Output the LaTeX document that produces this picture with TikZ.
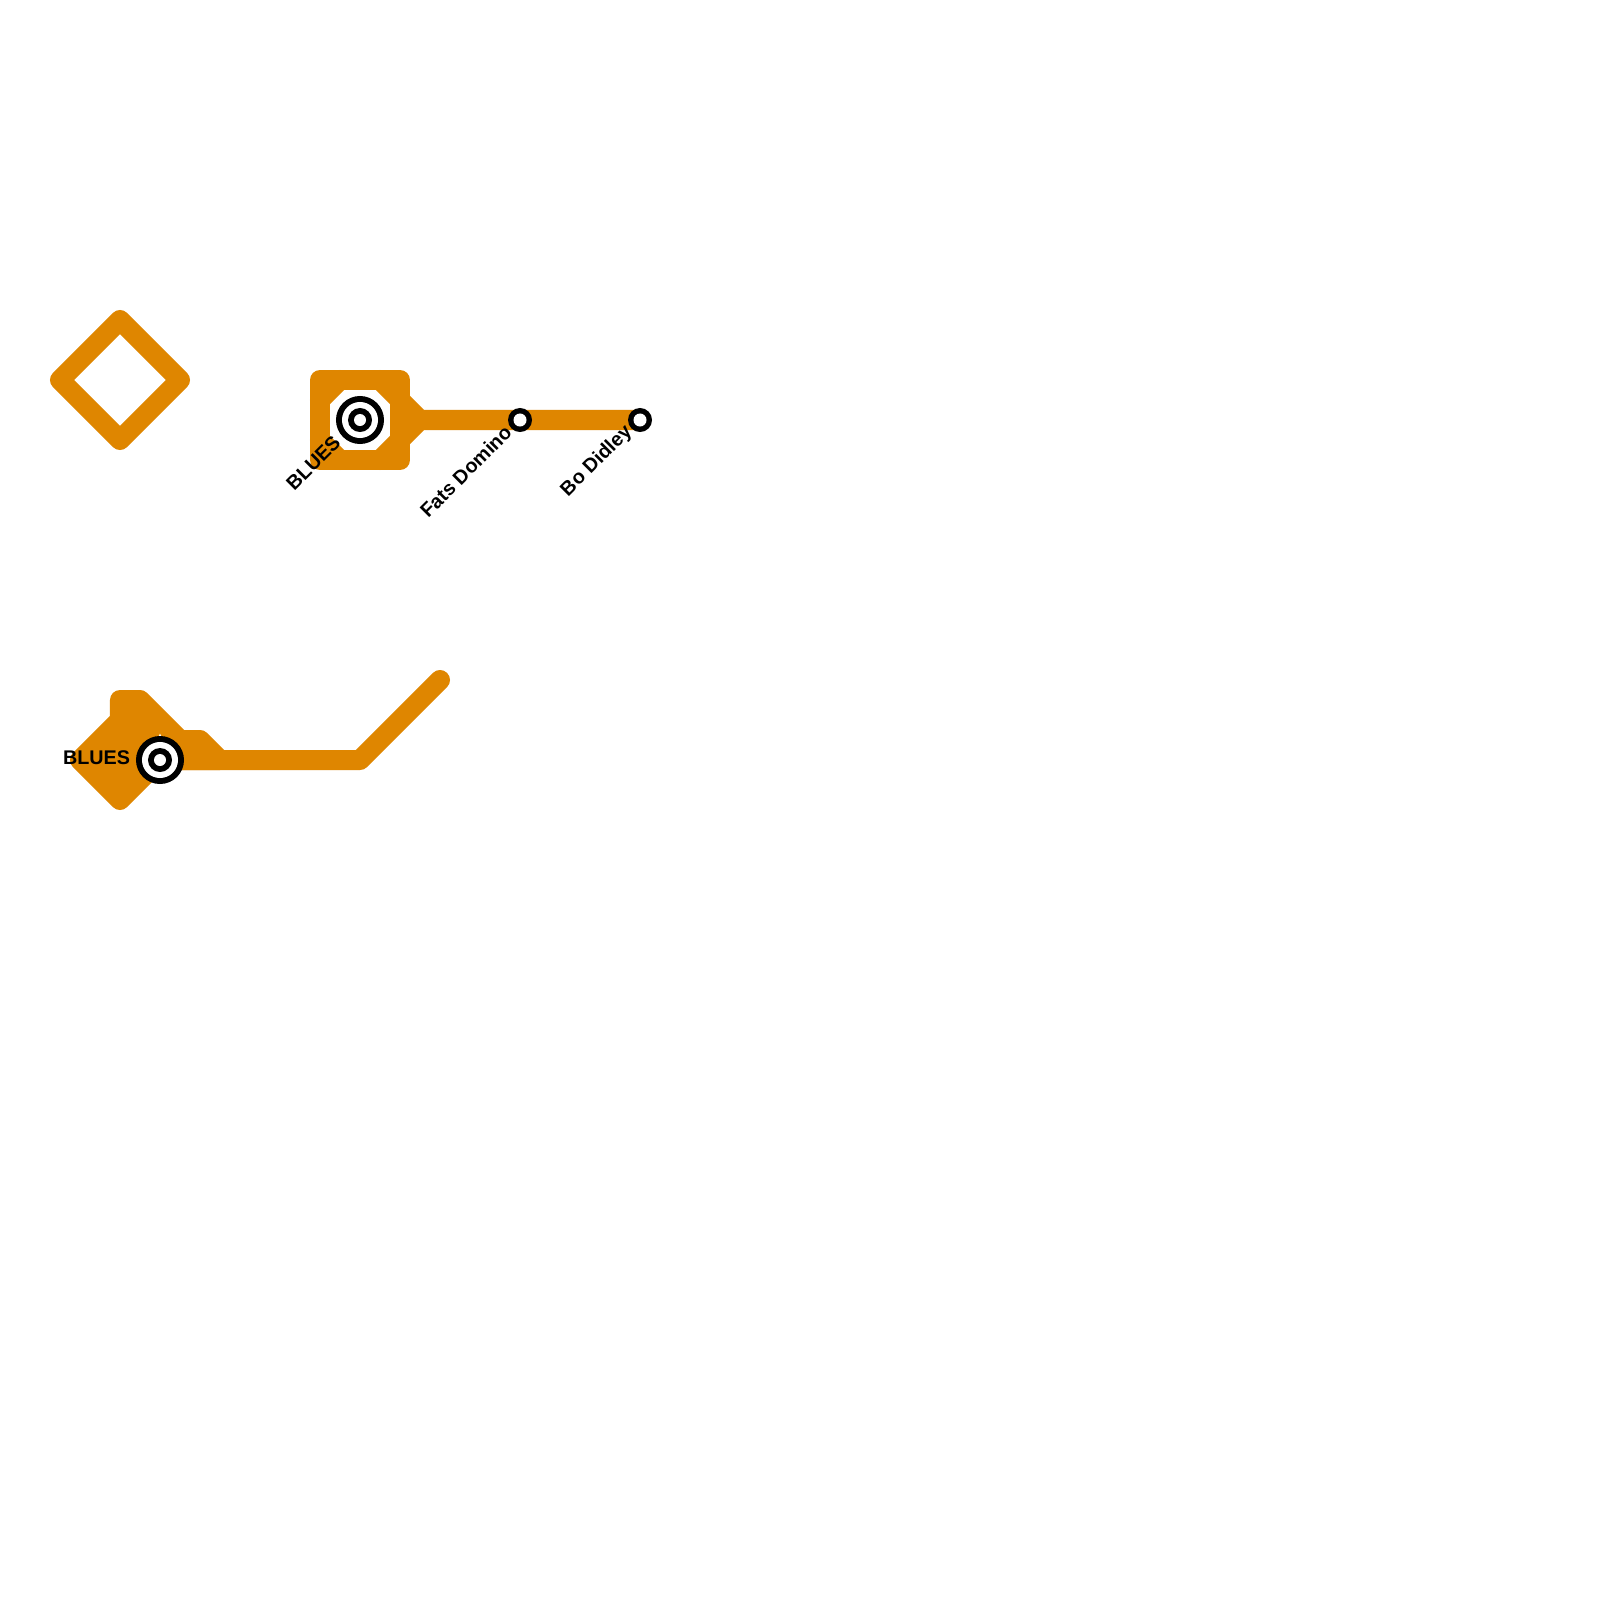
\documentclass[tikz,border=0pt]{standalone}
\usepackage{fontspec}
\setmainfont{Liberation Sans}
\definecolor{line}{HTML}{DF8600}
\begin{document}
\begin{tikzpicture}[x=0.01cm,y=-0.01cm,
  route/.style={draw=line,line width=0.2cm,line join=round,line cap=round},
  solid route/.style={route,fill=line},
  ring/.style={circle,draw=none,fill=#1,inner sep=0pt,outer sep=0pt},
  lbl/.style={inner sep=0pt,outer sep=0pt,font=\fontsize{5.62pt}{6pt}\selectfont\bfseries,text=black}]
\useasboundingbox[fill=white] (0,0) rectangle (1600,1600);
% free-standing diamond
\coordinate (d1) at (120,320);\coordinate (d2) at (180,380);\coordinate (d3) at (120,440);\coordinate (d4) at (60,380);
\draw[route] (d1) -- (d2) -- (d3) -- (d4) -- cycle;
% upper group
\coordinate (a1) at (320,380);\coordinate (a2) at (400,380);\coordinate (a3) at (400,460);\coordinate (a4) at (320,460);
\coordinate (b1) at (340,380);\coordinate (b2) at (320,400);\coordinate (b3) at (320,440);\coordinate (b4) at (340,460);
\coordinate (c1) at (380,380);\coordinate (c2) at (420,420);\coordinate (c3) at (380,460);
\coordinate (e) at (640,420);\coordinate (f) at (520,420);
\draw[route] (a1) -- (a2) -- (a3) -- (a4) -- cycle;
\draw[route] (b1) -- (b2) (b3) -- (b4) (c1) -- (c2) -- (c3) (c2) -- (e);
% lower group
\coordinate (g1) at (120,700);\coordinate (g2) at (140,700);\coordinate (g3) at (180,740);\coordinate (g4) at (200,740);\coordinate (g5) at (220,760);
\coordinate (g6) at (160,760);\coordinate (g7) at (120,800);\coordinate (g8) at (80,760);\coordinate (g9) at (120,720);
\coordinate (h1) at (360,760);\coordinate (h2) at (440,680);
\draw[solid route] (g1) -- (g2) -- (g3) -- (g4) -- (g5) -- (g6) -- (g7) -- (g8) -- (g9) -- cycle;
\draw[route] (g6) -- (h1) -- (h2);
\fill[white] (160,733.5) -- (161.5,736.5) -- (158.5,736.5) -- cycle;
% stations
\foreach \n/\x/\y in {s1/360/420,s2/160/760}{
  \node[ring=black,minimum size=0.48cm] (\n) at (\x,\y) {};
  \node[ring=white,minimum size=0.36cm] (\n w) at (\x,\y) {};
  \node[ring=black,minimum size=0.24cm] (\n b) at (\x,\y) {};
  \node[ring=white,minimum size=0.12cm] (\n c) at (\x,\y) {};
}
\foreach \n/\x/\y in {s3/520/420,s4/640/420}{
  \node[ring=black,minimum size=0.24cm] (\n) at (\x,\y) {};
  \node[ring=white,minimum size=0.13cm] (\n w) at (\x,\y) {};
}
% labels
\node[lbl,anchor=east,rotate=45] (l1) at (337,439) {BLUES};
\node[lbl,anchor=east] (l2) at (130,758) {BLUES};
\node[lbl,anchor=east,rotate=45] (l3) at (508,429) {Fats Domino};
\node[lbl,anchor=east,rotate=45] (l4) at (629,429) {Bo Didley};
\end{tikzpicture}
\end{document}
